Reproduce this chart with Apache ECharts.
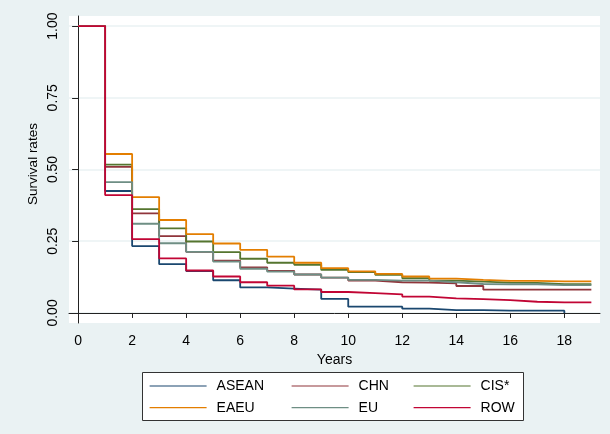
<!DOCTYPE html>
<html>
<head>
<meta charset="utf-8">
<script src="https://cdn.jsdelivr.net/npm/echarts@6/dist/echarts.min.js"></script>
<style>
  html, body { margin: 0; padding: 0; background: #eaf2f3; }
  #chart { width: 610px; height: 434px; }
</style>
</head>
<body>
<div id="chart"></div>
<script>
// Kaplan-Meier style survival rates by partner group, one value per year (0..19)
const years = [0, 1, 2, 3, 4, 5, 6, 7, 8, 9, 10, 11, 12, 13, 14, 15, 16, 17, 18, 19];

const asean = [1, 0.425, 0.233, 0.170, 0.146, 0.114, 0.089, 0.085, 0.081, 0.049, 0.022, 0.022, 0.015, 0.010, 0.010, 0.008, 0.008, 0.008, 0];
const chn   = [1, 0.509, 0.347, 0.268, 0.213, 0.182, 0.159, 0.147, 0.134, 0.123, 0.113, 0.107, 0.106, 0.103, 0.094, 0.081, 0.081, 0.081, 0.081, 0.081];
const cis   = [1, 0.517, 0.362, 0.295, 0.249, 0.212, 0.189, 0.175, 0.168, 0.150, 0.142, 0.133, 0.121, 0.113, 0.109, 0.106, 0.105, 0.100, 0.100, 0.100];
const eaeu  = [1, 0.554, 0.404, 0.324, 0.275, 0.242, 0.220, 0.196, 0.175, 0.156, 0.145, 0.136, 0.127, 0.120, 0.115, 0.112, 0.112, 0.110, 0.110, 0.110];
const eu    = [1, 0.456, 0.311, 0.243, 0.213, 0.179, 0.154, 0.144, 0.134, 0.123, 0.115, 0.113, 0.113, 0.107, 0.101, 0.100, 0.100, 0.097, 0.097, 0.097];
const row   = [1, 0.411, 0.257, 0.190, 0.148, 0.127, 0.107, 0.095, 0.082, 0.073, 0.069, 0.065, 0.057, 0.051, 0.048, 0.045, 0.039, 0.037, 0.037, 0.037];

const groupNames = ['ASEAN', 'CHN', 'CIS*', 'EAEU', 'EU', 'ROW'];
const groupValues = [asean, chn, cis, eaeu, eu, row];
const groupColors = ['#1a476f', '#90353b', '#55752f', '#e37e00', '#6e8e84', '#c10534'];

const xTicks = [0, 2, 4, 6, 8, 10, 12, 14, 16, 18];
const yTicks = [0, 0.25, 0.5, 0.75, 1];

const FONT = '"Liberation Sans", Arial, sans-serif';

const series = groupNames.map((name, k) => ({
  name: name,
  type: 'line',
  step: 'end',
  symbol: 'none',
  color: groupColors[k],
  lineStyle: { width: 1.8, color: groupColors[k] },
  data: groupValues[k].map((v, i) => [years[i], v]),
  z: 2 + k
}));

const legendBase = {
  orient: 'vertical',
  itemWidth: 57,
  itemHeight: 14,
  itemGap: 7.7,
  padding: 0,
  top: 379,
  z: 20,
  itemStyle: { opacity: 0 },
  lineStyle: { width: 1.2 },
  textStyle: { fontFamily: FONT, fontSize: 14, color: '#000', padding: [0, 0, 0, 5] }
};

const chart = echarts.init(document.getElementById('chart'), null, { renderer: 'canvas' });
chart.setOption({
  animation: false,
  backgroundColor: '#eaf2f3',
  grid: {
    left: 69, top: 16, right: 10, bottom: 111,
    show: true, backgroundColor: '#ffffff', borderWidth: 0
  },
  xAxis: {
    type: 'value',
    min: -0.337,
    max: 19.32,
    name: 'Years',
    nameLocation: 'middle',
    nameGap: 24,
    nameTextStyle: { fontFamily: FONT, fontSize: 14, color: '#000' },
    axisLine: { show: true, lineStyle: { color: '#222', width: 1 } },
    axisTick: { show: true, customValues: xTicks, length: 5, lineStyle: { color: '#222' } },
    axisLabel: { customValues: xTicks, fontFamily: FONT, fontSize: 14, color: '#000', margin: 11 },
    splitLine: { show: false }
  },
  yAxis: {
    type: 'value',
    min: -0.035,
    max: 1.035,
    axisLine: { show: true, lineStyle: { color: '#222', width: 1 } },
    axisTick: { show: true, customValues: yTicks, length: 6, lineStyle: { color: '#222' } },
    axisLabel: {
      customValues: yTicks, rotate: 90, fontFamily: FONT, fontSize: 14, color: '#000', margin: 9,
      formatter: v => v.toFixed(2)
    },
    splitLine: { show: true, lineStyle: { color: '#eaf2f3', width: 1.5 } }
  },
  legend: [
    Object.assign({}, legendBase, { left: 149, data: ['ASEAN', 'EAEU'] }),
    Object.assign({}, legendBase, { left: 291, data: ['CHN', 'EU'] }),
    Object.assign({}, legendBase, { left: 413, data: ['CIS*', 'ROW'] })
  ],
  graphic: [
    {
      type: 'rect',
      z: -10,
      zlevel: 0,
      silent: true,
      shape: { x: 142.5, y: 372.5, width: 381, height: 48 },
      style: { fill: '#ffffff', stroke: '#333333', lineWidth: 1 }
    },
    {
      type: 'text',
      x: 33, y: 164,
      rotation: Math.PI / 2,
      style: {
        text: 'Survival rates', fontFamily: FONT, fontSize: 13.5, fill: '#000',
        align: 'center', verticalAlign: 'middle'
      }
    }
  ],
  series: series
});
</script>
</body>
</html>
